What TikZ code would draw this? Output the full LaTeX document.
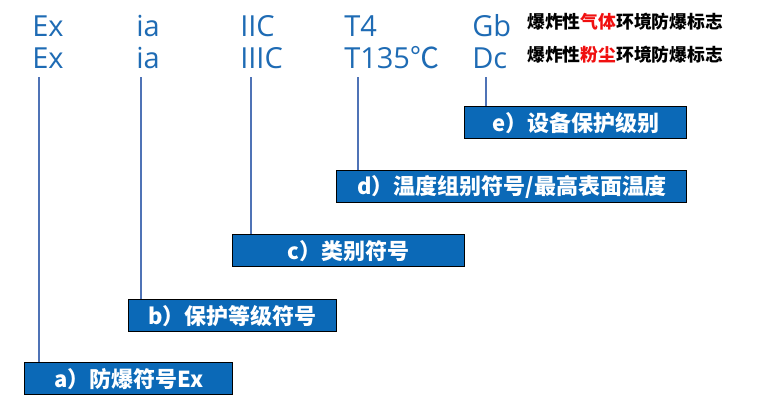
\documentclass[tikz,border=0pt]{standalone}
\usepackage{fontspec}
\setmainfont{Open Sans}
\newfontfamily\cjk{Noto Sans CJK SC}
\usetikzlibrary{positioning}
\definecolor{codeblue}{HTML}{1E6BB4}
\definecolor{boxblue}{HTML}{0B69B7}
\definecolor{leadblue}{HTML}{4F73B6}
\definecolor{notered}{HTML}{F01010}

\begin{document}
\begin{tikzpicture}[x=1pt,y=-1pt,line width=.5pt,
  code/.style={anchor=base west,inner sep=0pt,text=codeblue,font=\fontsize{29}{32}\selectfont},
  note/.style={anchor=base west,inner sep=0pt,font=\cjk\bfseries\fontsize{17.8}{20}\selectfont},
  tag/.style={anchor=north west,draw=black,line width=1.3pt,fill=boxblue,text=white,inner sep=0pt,
    minimum height=32pt,font=\cjk\bfseries\fontsize{22}{26}\selectfont},
  lead/.style={draw=leadblue,line width=1.5pt}]
\path[use as bounding box] (0,0) rectangle (760,408);
% marking, gas and dust rows
\node[code] (exGas) at (32,36) {Ex};
\node[code] (exDust) at (32,68) {Ex};
\node[code] (iaGas) at (136,36) {ia};
\node[code] (iaDust) at (136,68) {ia};
\node[code] (grpGas) at (240,36) {IIC};
\node[code] (grpDust) at (240,68) {IIIC};
\node[code] (tGas) at (344,36) {T4};
\node[code] (tDust) at (344,68) {T135{\cjk ℃}};
\node[code] (eplGas) at (472,36) {Gb};
\node[code] (eplDust) at (472,68) {Dc};
\node[note] (noteGas) at (527,28.5) {爆炸性\textcolor{notered}{气体}环境防爆标志};
\node[note] (noteDust) at (527,61) {爆炸性\textcolor{notered}{粉尘}环境防爆标志};
% explanation boxes
\node[tag,minimum width=208pt] (tagA) at (24,362) {a）防爆符号Ex};
\node[tag,minimum width=208pt] (tagB) at (128,299) {b）保护等级符号};
\node[tag,minimum width=232pt] (tagC) at (232,234) {c）类别符号};
\node[tag,minimum width=350pt] (tagD) at (336,170) {d）温度组别符号/最高表面温度};
\node[tag,minimum width=222pt] (tagE) at (464,106) {e）设备保护级别};
% leader lines
\coordinate (leadA) at (39,77);
\coordinate (leadB) at (141,77);
\coordinate (leadC) at (251,77);
\coordinate (leadD) at (358,77);
\coordinate (leadE) at (486,77);
\draw[lead] (leadA) -- (leadA |- tagA.north);
\draw[lead] (leadB) -- (leadB |- tagB.north);
\draw[lead] (leadC) -- (leadC |- tagC.north);
\draw[lead] (leadD) -- (leadD |- tagD.north);
\draw[lead] (leadE) -- (leadE |- tagE.north);
\end{tikzpicture}
\end{document}
